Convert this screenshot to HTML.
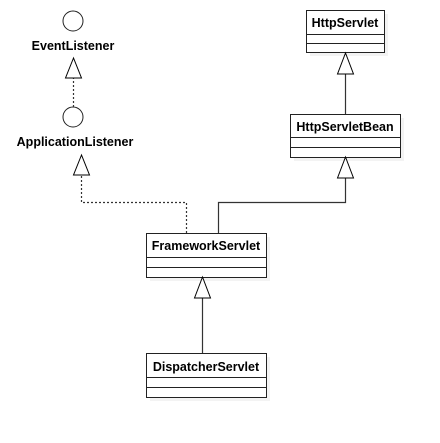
<!DOCTYPE html>
<html><head><style>
body{margin:0;background:#fff;width:440px;height:438px;overflow:hidden}
</style></head><body>
<svg width="440" height="438" viewBox="0 0 440 438" font-family="Liberation Sans, sans-serif" font-size="12.5" font-weight="bold">
<g fill="#f3f3f3" stroke="none">
<rect x="310" y="14" width="78" height="42"/>
<rect x="294" y="118" width="110" height="43"/>
<rect x="150" y="237" width="120" height="44"/>
<rect x="150" y="357" width="120" height="44"/>
</g>
<g fill="#fff" stroke="#222" stroke-width="1">
<circle cx="73" cy="21" r="10"/>
<circle cx="73" cy="117" r="10"/>
<rect x="306.5" y="10.5" width="78" height="42"/>
<line x1="306" y1="34.5" x2="385" y2="34.5"/><line x1="306" y1="43.5" x2="385" y2="43.5"/>
<rect x="290.5" y="114.5" width="110" height="43"/>
<line x1="290" y1="137.5" x2="401" y2="137.5"/><line x1="290" y1="147.5" x2="401" y2="147.5"/>
<rect x="146.5" y="233.5" width="120" height="44"/>
<line x1="146" y1="257.5" x2="267" y2="257.5"/><line x1="146" y1="267.5" x2="267" y2="267.5"/>
<rect x="146.5" y="353.5" width="120" height="44"/>
<line x1="146" y1="377.5" x2="267" y2="377.5"/><line x1="146" y1="387.5" x2="267" y2="387.5"/>
</g>
<g fill="none" stroke="#333" stroke-width="1.2">
<line x1="345.5" y1="114" x2="345.5" y2="74"/>
<polyline points="218.5,233 218.5,202.5 345.5,202.5 345.5,178"/>
<line x1="202.5" y1="353" x2="202.5" y2="298"/>
</g>
<g fill="none" stroke="#333" stroke-width="1.2" stroke-dasharray="2,2">
<polyline points="186.5,233 186.5,202.5 81.5,202.5 81.5,175"/>
<line x1="73.5" y1="107" x2="73.5" y2="78"/>
</g>
<g fill="#fff" stroke="#000" stroke-width="1">
<polygon points="345.5,53 337.5,74 353.5,74"/>
<polygon points="345.5,157 337.5,178 353.5,178"/>
<polygon points="202.5,277 194.5,298 210.5,298"/>
<polygon points="81.5,155 73.5,175 89.5,175"/>
<polygon points="73.5,58 65.5,78 81.5,78"/>
</g>
<g fill="#000" stroke="none">
<text x="73" y="50" text-anchor="middle">EventListener</text>
<text x="75" y="146" text-anchor="middle">ApplicationListener</text>
<text x="345" y="27" text-anchor="middle">HttpServlet</text>
<text x="345" y="131" text-anchor="middle">HttpServletBean</text>
<text x="206" y="250" text-anchor="middle">FrameworkServlet</text>
<text x="206" y="371" text-anchor="middle">DispatcherServlet</text>
</g>
</svg>
</body></html>
